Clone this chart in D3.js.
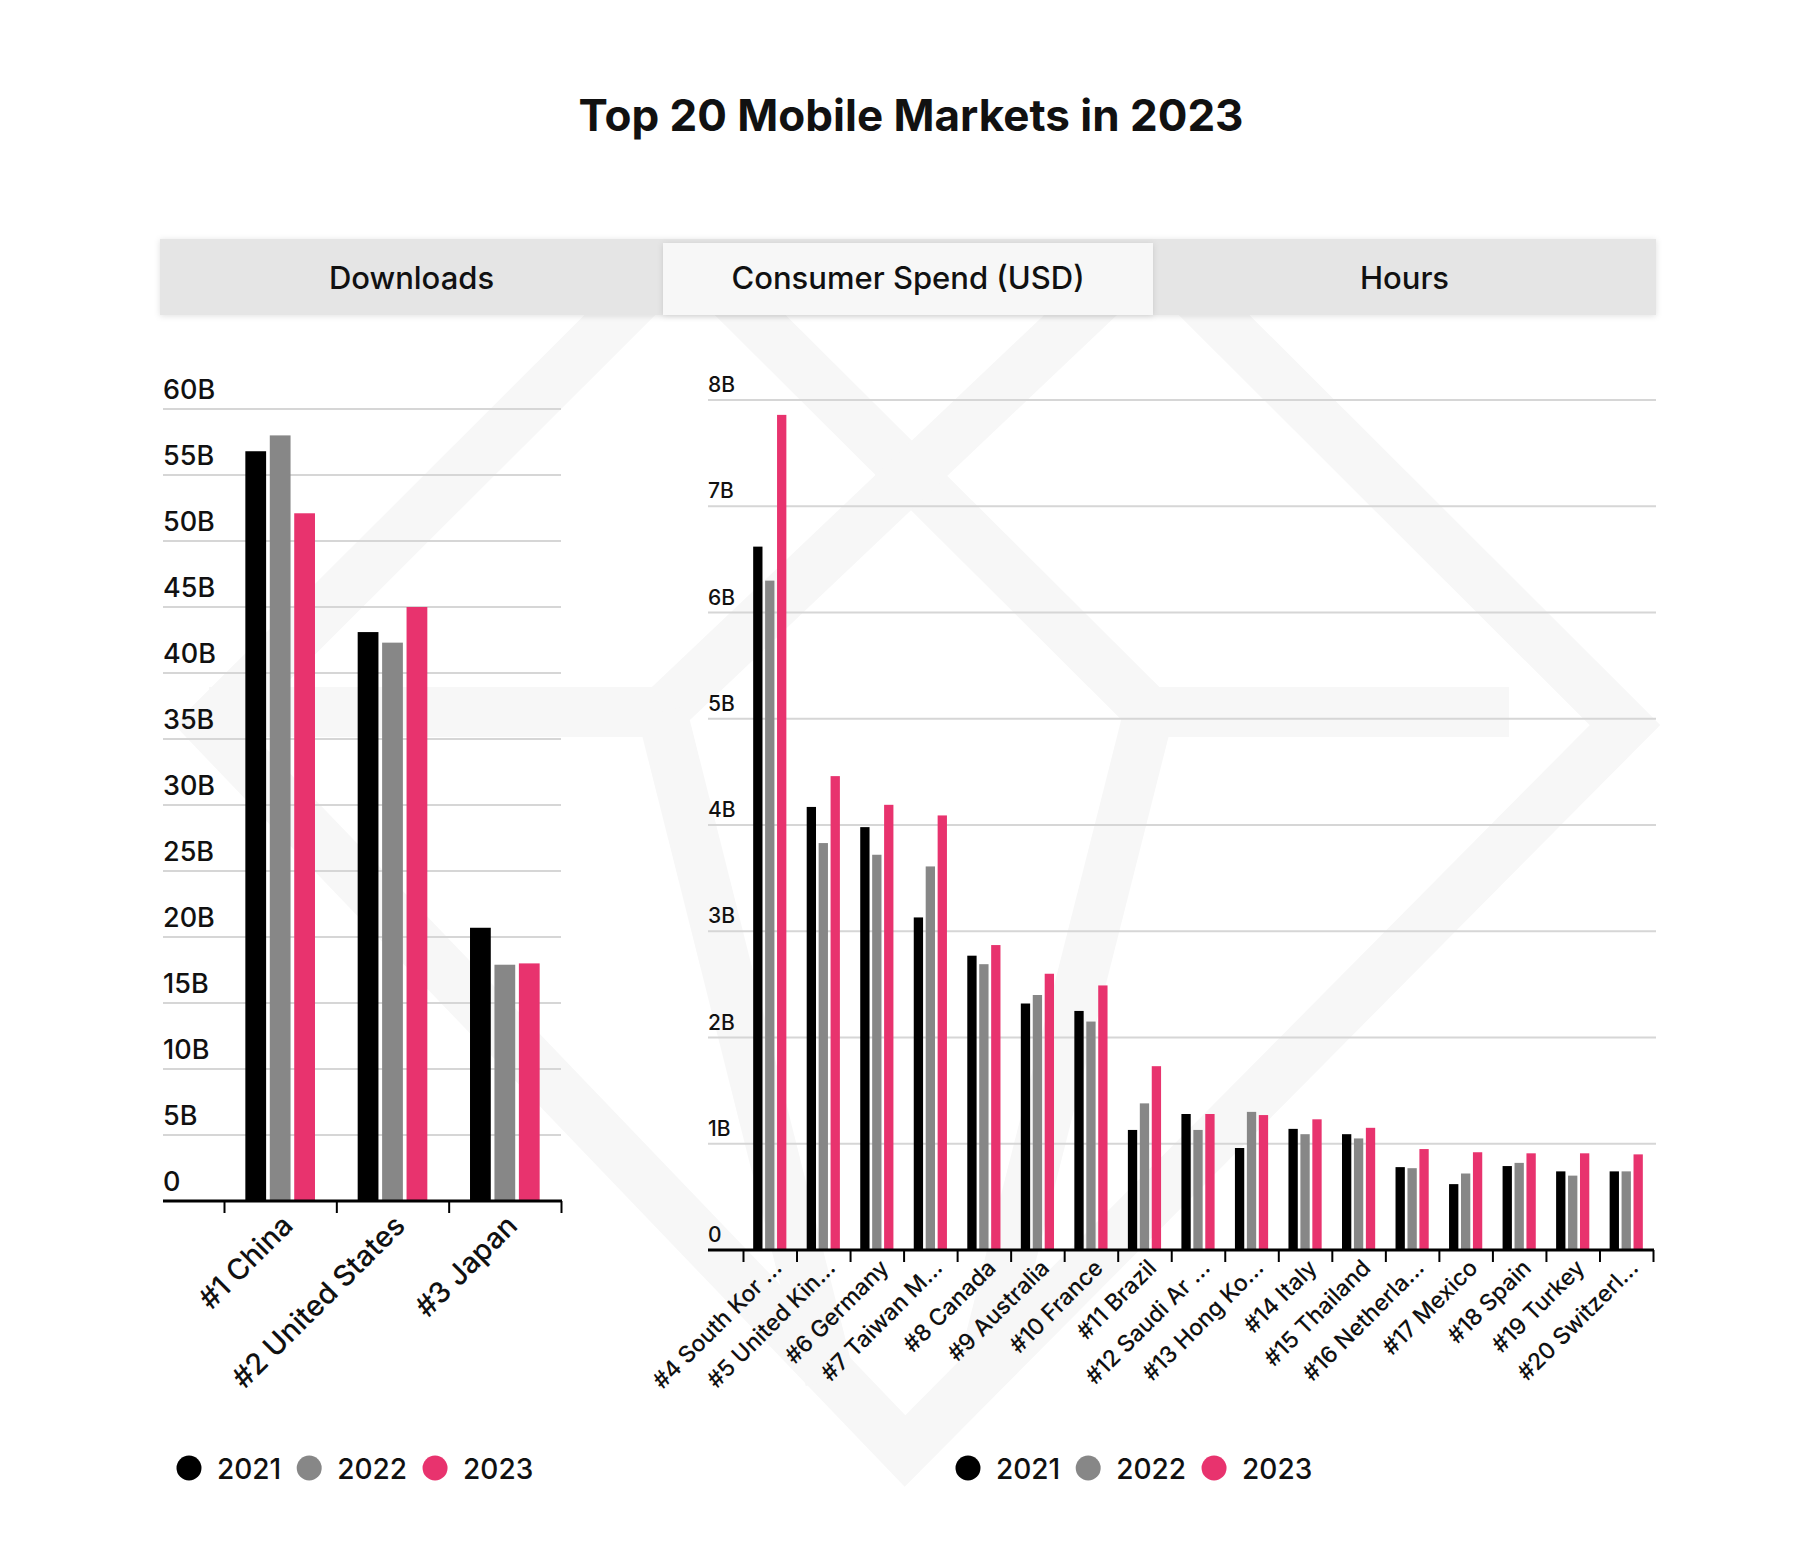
<!DOCTYPE html>
<html><head><meta charset="utf-8">
<script src="https://cdn.jsdelivr.net/npm/d3@7"></script>
<style>
html,body{margin:0;padding:0;background:#fff;}
svg{display:block;font-family:Inter,"Noto Sans",sans-serif;}
</style></head><body>
<svg id="chart" width="1820" height="1562"></svg>
<script>
// ---------- DATA ----------
const titleText = "Top 20 Mobile Markets in 2023";
const tabLabels = ["Downloads", "Consumer Spend (USD)", "Hours"];
const years = ["2021", "2022", "2023"];
const yearColors = ["#000000", "#878787", "#e8336e"];

const dlCategories = ["#1 China", "#2 United States", "#3 Japan"];
const dl2021 = [56.8, 43.1, 20.7];
const dl2022 = [58.0, 42.3, 17.9];
const dl2023 = [52.1, 45.0, 18.0];
const dlTickValues = [0, 5, 10, 15, 20, 25, 30, 35, 40, 45, 50, 55, 60];
const dlTickLabels = ["0", "5B", "10B", "15B", "20B", "25B", "30B", "35B", "40B", "45B", "50B", "55B", "60B"];

const spCategories = ["#4 South Kor ...", "#5 United Kin...", "#6 Germany", "#7 Taiwan M...", "#8 Canada",
  "#9 Australia", "#10 France", "#11 Brazil", "#12 Saudi Ar ...", "#13 Hong Ko...", "#14 Italy",
  "#15 Thailand", "#16 Netherla...", "#17 Mexico", "#18 Spain", "#19 Turkey", "#20 Switzerl..."];
const sp2021 = [6.62, 4.17, 3.98, 3.13, 2.77, 2.32, 2.25, 1.13, 1.28, 0.96, 1.14, 1.09, 0.78, 0.62, 0.79, 0.74, 0.74];
const sp2022 = [6.30, 3.83, 3.72, 3.61, 2.69, 2.40, 2.15, 1.38, 1.13, 1.30, 1.09, 1.05, 0.77, 0.72, 0.82, 0.70, 0.74];
const sp2023 = [7.86, 4.46, 4.19, 4.09, 2.87, 2.60, 2.49, 1.73, 1.28, 1.27, 1.23, 1.15, 0.95, 0.92, 0.91, 0.91, 0.90];
const spTickValues = [0, 1, 2, 3, 4, 5, 6, 7, 8];
const spTickLabels = ["0", "1B", "2B", "3B", "4B", "5B", "6B", "7B", "8B"];

// ---------- DRAW ----------
const svg = d3.select("#chart");
const defs = svg.append("defs");
const sh = defs.append("filter").attr("id", "shadow").attr("x", "-5%").attr("y", "-30%").attr("width", "110%").attr("height", "160%");
sh.append("feDropShadow").attr("dx", 0).attr("dy", 1).attr("stdDeviation", 3).attr("flood-color", "#000").attr("flood-opacity", 0.12);
defs.append("clipPath").attr("id", "wmclip").append("rect").attr("x", 0).attr("y", 243).attr("width", 1820).attr("height", 1320);

svg.append("rect").attr("width", 1820).attr("height", 1562).attr("fill", "#ffffff");

// faint watermark logo
const wm = svg.append("g").attr("clip-path", "url(#wmclip)").attr("fill", "none")
  .attr("stroke", "#f7f7f7").attr("stroke-width", 50).attr("stroke-linejoin", "miter");
const wmPaths = [
  [[685, 250], [209, 725], [905, 1451], [1625, 725], [1149, 250]],
  [[685, 250], [1149, 712], [1509, 712]],
  [[1149, 250], [662, 712], [209, 712]],
  [[662, 712], [830, 1380]],
  [[1149, 712], [980, 1380]]
];
wmPaths.forEach(p => wm.append("path").attr("d", d3.line()(p)));

// title
svg.append("text").attr("x", 911).attr("y", 131).attr("text-anchor", "middle")
  .attr("font-size", 44).attr("font-weight", 700).attr("fill", "#111").text(titleText);

// tabs
const tabX = d3.scaleOrdinal().domain(tabLabels).range([[160, 663], [663, 1153], [1153, 1656]]);
const tabs = svg.append("g");
tabs.append("rect").attr("x", 160).attr("y", 239).attr("width", 1496).attr("height", 76)
  .attr("fill", "#e5e5e5").attr("filter", "url(#shadow)");
tabs.append("rect").attr("x", 663).attr("y", 243).attr("width", 490).attr("height", 72)
  .attr("fill", "#f7f7f7").attr("filter", "url(#shadow)");
tabLabels.forEach(t => {
  const r = tabX(t);
  tabs.append("text").attr("x", (r[0] + r[1]) / 2).attr("y", 289).attr("text-anchor", "middle")
    .attr("font-size", 31).attr("font-weight", 500).attr("fill", "#111").text(t);
});

function drawPanel(o) {
  const g = svg.append("g");
  const y = d3.scaleLinear().domain(o.yDomain).range([o.yBottom, o.yTop]);
  const x0 = d3.scaleBand().domain(o.cats).range([o.bandStart, o.bandEnd]).paddingInner(0.38).paddingOuter(0.19);
  const x1 = d3.scaleBand().domain(years).range([0, x0.bandwidth()]).paddingInner(o.innerPad).paddingOuter(0);

  // gridlines
  g.append("g").selectAll("line").data(o.ticks.filter(d => d > 0)).join("line")
    .attr("x1", o.gridLeft).attr("x2", o.gridRight)
    .attr("y1", d => y(d)).attr("y2", d => y(d))
    .attr("stroke", "#d6d6d6").attr("stroke-width", 2);
  // y labels
  g.append("g").selectAll("text").data(o.ticks).join("text")
    .attr("x", o.gridLeft).attr("y", d => y(d) - o.labelGap)
    .attr("font-size", o.yFont).attr("font-weight", 500).attr("fill", "#111")
    .text((d, i) => o.tickLabels[i]);

  // bars
  const series = [o.s1, o.s2, o.s3];
  o.cats.forEach((c, ci) => {
    years.forEach((yr, yi) => {
      const v = series[yi][ci];
      g.append("rect")
        .attr("x", x0(c) + x1(yr)).attr("width", x1.bandwidth())
        .attr("y", y(v)).attr("height", y(0) - y(v))
        .attr("fill", yearColors[yi]);
    });
  });

  // axis line & ticks at band boundaries
  const edge = d3.scaleLinear().domain([0, o.cats.length]).range([o.bandStart, o.bandEnd]);
  const axis = d3.axisBottom(edge).tickValues(d3.range(o.cats.length + 1))
    .tickSize(12).tickFormat("");
  const ag = g.append("g").attr("transform", `translate(0,${o.yBottom})`).call(axis);
  ag.select(".domain").remove();
  ag.selectAll(".tick line").attr("stroke", "#000").attr("stroke-width", 2);
  g.append("line").attr("x1", o.gridLeft).attr("x2", o.bandEnd + 1)
    .attr("y1", o.yBottom).attr("y2", o.yBottom).attr("stroke", "#000").attr("stroke-width", 3);

  // x labels
  g.append("g").selectAll("text").data(o.cats).join("text")
    .attr("transform", d => `translate(${x0(d) + x0.bandwidth() / 2 + o.lblDx},${o.yBottom + o.lblDy}) rotate(-45)`)
    .attr("text-anchor", "end").attr("dy", "0.7em")
    .attr("font-size", o.xFont).attr("font-weight", 500).attr("fill", "#111").text(d => d);

  // legend
  const lg = g.append("g");
  let lx = o.legendX;
  years.forEach((yr, i) => {
    lg.append("circle").attr("cx", lx).attr("cy", o.legendY).attr("r", 12.5).attr("fill", yearColors[i]);
    const t = lg.append("text").attr("x", lx + 28).attr("y", o.legendY + 11)
      .attr("font-size", 28).attr("font-weight", 500).attr("fill", "#111").text(yr);
    lx = lx + 28 + t.node().getComputedTextLength() + 28;
  });
}

drawPanel({
  cats: dlCategories, s1: dl2021, s2: dl2022, s3: dl2023,
  ticks: dlTickValues, tickLabels: dlTickLabels, yDomain: [0, 60],
  yTop: 409, yBottom: 1201, gridLeft: 163, gridRight: 561,
  bandStart: 224, bandEnd: 561, innerPad: 0.15,
  yFont: 27, labelGap: 10, xFont: 29, lblDx: 0, lblDy: 12,
  legendX: 189, legendY: 1468
});

drawPanel({
  cats: spCategories, s1: sp2021, s2: sp2022, s3: sp2023,
  ticks: spTickValues, tickLabels: spTickLabels, yDomain: [0, 8],
  yTop: 400, yBottom: 1250, gridLeft: 708, gridRight: 1656,
  bandStart: 743, bandEnd: 1653, innerPad: 0.22,
  yFont: 21, labelGap: 8, xFont: 23, lblDx: 2, lblDy: 8,
  legendX: 968, legendY: 1468
});
</script>
</body></html>
